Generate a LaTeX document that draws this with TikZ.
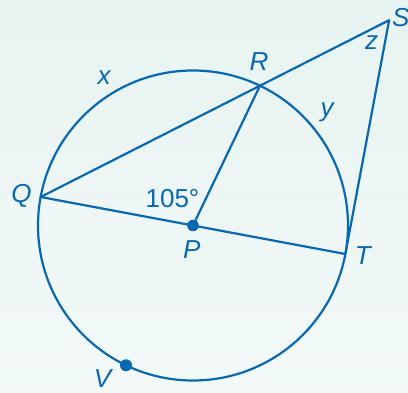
\documentclass[tikz,border=0pt]{standalone}
\usepackage{fontspec}
\setmainfont{Liberation Sans}
\usetikzlibrary{calc}
\definecolor{geoblue}{RGB}{8,104,178}
\definecolor{bgtop}{RGB}{231,244,241}
\definecolor{bgbot}{RGB}{243,249,249}
\tikzset{
  geoline/.style={draw=geoblue, line width=2.2pt, line join=round, line cap=round},
  geodot/.style={fill=geoblue},
  lbl/.style={text=geoblue, inner sep=0pt, font=\fontsize{26}{26}\selectfont\itshape},
  numlbl/.style={text=geoblue, inner sep=0pt, font=\fontsize{26}{26}\selectfont},
}
\begin{document}
\begin{tikzpicture}
\shade[top color=bgtop, bottom color=bgbot] (0,0) rectangle (408pt,392pt);
\useasboundingbox (0,0) rectangle (408pt,392pt);
\coordinate (P) at (193pt,166.5pt);
\coordinate (Q) at ($(P)+(169.4:155pt)$);
\coordinate (R) at ($(P)+(64.4:155pt)$);
\coordinate (T) at ($(P)+(-10.6:155pt)$);
\coordinate (V) at ($(P)+(244.4:155pt)$);
\coordinate (T2) at ($(T)!1!90:(P)$);
\coordinate (S) at (intersection of Q--R and T--T2);
\draw[geoline] (P) circle (155pt);
\draw[geoline] (Q) -- (S) -- (T) -- (Q);
\draw[geoline] (P) -- (R);
\fill[geodot] (P) circle (5.8pt);
\fill[geodot] (V) circle (6pt);
\node[lbl, anchor=west] (lS) at (392pt,374pt) {S};
\node[lbl] (lz) at (371.5pt,349pt) {z};
\node[lbl] (lR) at (259pt,330pt) {R};
\node[lbl] (lx) at (104pt,314pt) {x};
\node[lbl] (ly) at (327pt,280pt) {y};
\node[lbl] (lQ) at (21.5pt,196.5pt) {Q};
\node[numlbl] (l105) at (172.5pt,193.7pt) {105°};
\node[lbl] (lP) at (191.7pt,142.8pt) {P};
\node[lbl] (lT) at (362.7pt,136.3pt) {T};
\node[lbl] (lV) at (102.5pt,13.7pt) {V};
\end{tikzpicture}
\end{document}
